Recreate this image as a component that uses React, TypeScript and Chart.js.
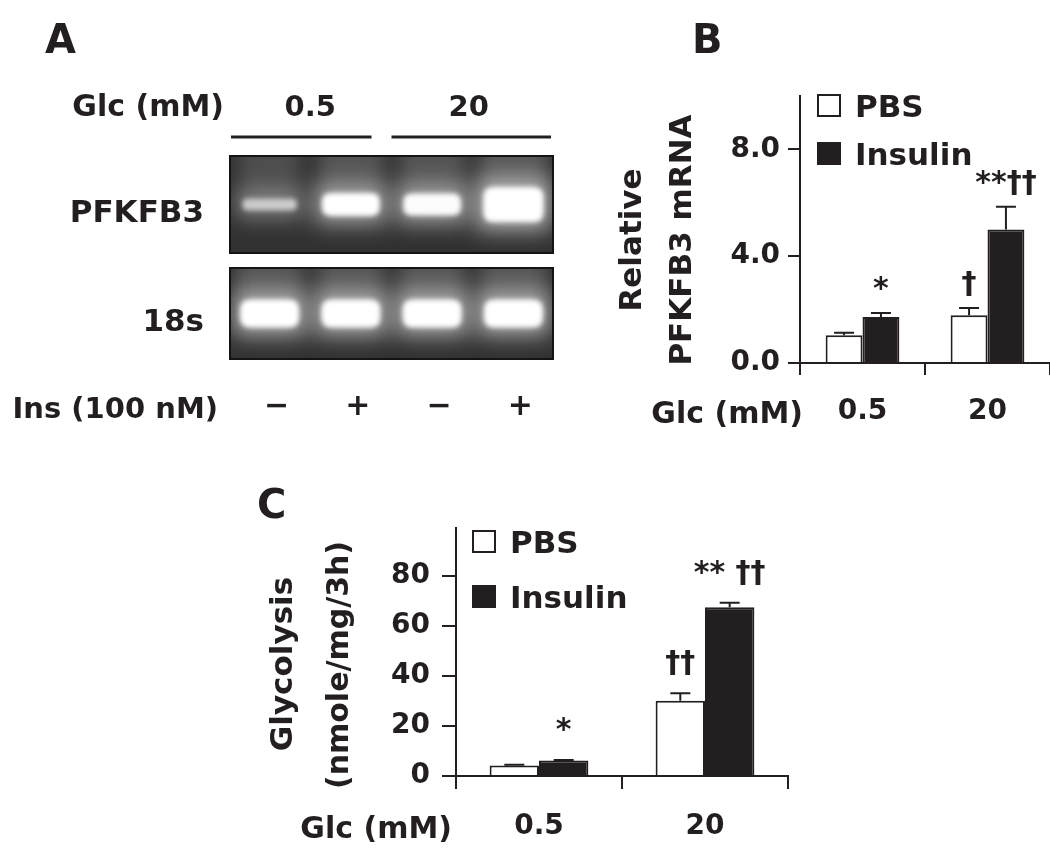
import React, { useEffect, useRef } from 'react';
import { Chart, registerables } from 'chart.js';

Chart.register(...registerables);

const INK = '#231f20';
const FAMILY = '"DejaVu Sans", "Liberation Sans", sans-serif';
const LETTER = 40;
const LABEL = 30;
const TICK = 28;
const MARK = 30;

// ---------------- data ----------------
const glcLevels = ['0.5', '20'];
const insulinLanes = ['\u2212', '+', '\u2212', '+'];
const gelRows = ['PFKFB3', '18s'];
const pfkfb3Signal = [0.4, 0.8, 0.78, 1.0];
const rRNA18sSignal = [0.9, 0.9, 0.9, 0.9];

const seriesNames = ['PBS', 'Insulin'];

const mrnaPBS = [1.04, 1.79];
const mrnaPBSErr = [0.09, 0.27];
const mrnaIns = [1.72, 5.0];
const mrnaInsErr = [0.15, 0.85];
const mrnaMarksPBS = ['', '\u2020'];
const mrnaMarksIns = ['*', '**\u2020\u2020'];
const mrnaTicks = [0, 4, 8];

const glyPBS = [4.2, 30.0];
const glyPBSErr = [0.3, 3.0];
const glyIns = [6.2, 67.4];
const glyInsErr = [0.2, 1.8];
const glyMarksPBS = ['', '\u2020\u2020'];
const glyMarksIns = ['*', '** \u2020\u2020'];
const glyTicks = [0, 20, 40, 60, 80];

// ---------------- helpers ----------------
type TextItem = { text: string; x: number; y: number; size: number; align?: CanvasTextAlign; rotate?: boolean };

function font(size: number) {
  return `bold ${size}px ${FAMILY}`;
}

function paintTexts(ctx: CanvasRenderingContext2D, items: TextItem[]) {
  items.forEach((t) => {
    ctx.save();
    ctx.font = font(t.size);
    ctx.fillStyle = INK;
    ctx.textAlign = t.align || 'left';
    ctx.textBaseline = t.rotate ? 'middle' : 'alphabetic';
    ctx.translate(t.x, t.y);
    if (t.rotate) ctx.rotate(-Math.PI / 2);
    ctx.fillText(t.text, 0, 0);
    ctx.restore();
  });
}

function roundRect(ctx: CanvasRenderingContext2D, x: number, y: number, w: number, h: number, r: number) {
  ctx.beginPath();
  ctx.moveTo(x + r, y);
  ctx.lineTo(x + w - r, y);
  ctx.quadraticCurveTo(x + w, y, x + w, y + r);
  ctx.lineTo(x + w, y + h - r);
  ctx.quadraticCurveTo(x + w, y + h, x + w - r, y + h);
  ctx.lineTo(x + r, y + h);
  ctx.quadraticCurveTo(x, y + h, x, y + h - r);
  ctx.lineTo(x, y + r);
  ctx.quadraticCurveTo(x, y, x + r, y);
  ctx.closePath();
}

// ---------------- gel plugin (panel A) ----------------
function gelPlugin(cfg: { rowTop: number[]; rowBottom: number[]; texts: TextItem[] }) {
  return {
    id: 'gel',
    afterDraw(chart: any) {
      const ctx: CanvasRenderingContext2D = chart.ctx;
      const xs = chart.scales.x;
      const { left, right } = chart.chartArea;
      const laneW = (right - left) / insulinLanes.length;
      ctx.save();
      chart.data.datasets.forEach((ds: any, r: number) => {
        const top = cfg.rowTop[r];
        const bottom = cfg.rowBottom[r];
        const cy = (top + bottom) / 2;
        ctx.save();
        ctx.fillStyle = '#141414';
        ctx.fillRect(left, top, right - left, bottom - top);
        ctx.beginPath();
        ctx.rect(left + 2, top + 2, right - left - 4, bottom - top - 4);
        ctx.clip();
        ctx.fillStyle = '#313131';
        ctx.fillRect(left, top, right - left, bottom - top);
        (ds.data as number[]).forEach((s, i) => {
          const cx = xs.getPixelForValue(i);
          const w = 50 + 10 * s;
          const h = 10 + 25 * s * s * s;
          // lane smear from the well down to the band
          ctx.filter = 'blur(9px)';
          ctx.fillStyle = `rgba(255,255,255,${0.1 + 0.1 * s})`;
          ctx.fillRect(cx - w / 2 - 4, top - 12, w + 8, cy - top + 12 + h / 2);
          // halo
          ctx.filter = 'blur(11px)';
          ctx.fillStyle = `rgba(255,255,255,${0.15 + 0.4 * s})`;
          ctx.fillRect(cx - w / 2 - 7, cy - h / 2 - 9, w + 14, h + 18);
          // core
          ctx.filter = 'blur(2.5px)';
          const g = Math.round(150 + 105 * Math.min(1, s * 1.25));
          ctx.fillStyle = `rgb(${g},${g},${g})`;
          roundRect(ctx, cx - w / 2, cy - h / 2, w, h, Math.min(h / 2.5, 10));
          ctx.fill();
        });
        ctx.filter = 'none';
        ctx.restore();
        paintTexts(ctx, [{ text: gelRows[r], x: left - 25, y: cy + 17, size: 31, align: 'right' }]);
      });
      glcLevels.forEach((lvl, g) => {
        const l = xs.getPixelForValue(2 * g) - laneW / 2;
        const rr = xs.getPixelForValue(2 * g + 1) + laneW / 2;
        const x0 = g === 0 ? l + 2 : l;
        const x1 = g === 0 ? rr - 20 : rr - 3;
        ctx.strokeStyle = INK;
        ctx.lineWidth = 3;
        ctx.beginPath();
        ctx.moveTo(x0, 137);
        ctx.lineTo(x1, 137);
        ctx.stroke();
        paintTexts(ctx, [{ text: lvl, x: (l + rr) / 2 - (g === 0 ? 0 : 4), y: 116, size: 29, align: 'center' }]);
      });
      paintTexts(ctx, cfg.texts);
      ctx.restore();
    },
  };
}

// ---------------- bar decoration plugin (panels B, C) ----------------
function barDecor(cfg: {
  legend: { x: number; y: number; rowGap: number; textX: number };
  texts: TextItem[];
  capWidth: number;
  markGap: number;
}) {
  return {
    id: 'barDecor',
    afterDatasetsDraw(chart: any) {
      const ctx: CanvasRenderingContext2D = chart.ctx;
      const ys = chart.scales.y;
      ctx.save();
      chart.data.datasets.forEach((ds: any, i: number) => {
        const meta = chart.getDatasetMeta(i);
        meta.data.forEach((bar: any, j: number) => {
          const v = ds.data[j];
          const e = ds.errors[j];
          const top = ys.getPixelForValue(v + e);
          ctx.strokeStyle = INK;
          ctx.lineWidth = 2;
          ctx.beginPath();
          ctx.moveTo(bar.x, bar.y);
          ctx.lineTo(bar.x, top);
          ctx.moveTo(bar.x - cfg.capWidth / 2, top);
          ctx.lineTo(bar.x + cfg.capWidth / 2, top);
          ctx.stroke();
          const m = ds.marks[j];
          if (m) {
            paintTexts(ctx, [{ text: m, x: bar.x, y: top - cfg.markGap, size: MARK, align: 'center' }]);
          }
        });
        const lx = cfg.legend.x;
        const ly = cfg.legend.y + i * cfg.legend.rowGap;
        ctx.fillStyle = ds.backgroundColor;
        ctx.fillRect(lx, ly, 24, 23);
        ctx.strokeStyle = INK;
        ctx.lineWidth = 2;
        ctx.strokeRect(lx + 1, ly + 1, 22, 21);
        paintTexts(ctx, [{ text: ds.label, x: cfg.legend.textX, y: ly + 23, size: 31 }]);
      });
      paintTexts(ctx, cfg.texts);
      ctx.restore();
    },
  };
}

function axisStyle(tickLength: number) {
  return {
    grid: {
      display: true,
      drawOnChartArea: false,
      drawTicks: true,
      tickLength,
      tickWidth: 2,
      tickColor: INK,
      lineWidth: 2,
      color: INK,
    },
    border: { display: true, color: INK, width: 2 },
  };
}

function fixSize(prop: 'width' | 'height', value: number) {
  return (s: any) => {
    s[prop] = value;
    s.paddingLeft = 0;
    s.paddingRight = 0;
    s.paddingTop = 0;
    s.paddingBottom = 0;
  };
}

// ---------------- configs ----------------
function configA(): any {
  return {
    type: 'bar',
    data: {
      labels: insulinLanes,
      datasets: [
        { label: gelRows[0], data: pfkfb3Signal, backgroundColor: 'rgba(0,0,0,0)', borderWidth: 0 },
        { label: gelRows[1], data: rRNA18sSignal, backgroundColor: 'rgba(0,0,0,0)', borderWidth: 0 },
      ],
    },
    options: {
      responsive: false,
      animation: false,
      devicePixelRatio: 1,
      events: [],
      layout: { autoPadding: false, padding: { left: 229, right: 496, top: 155, bottom: 0 } },
      plugins: { legend: { display: false }, tooltip: { enabled: false } },
      scales: {
        x: {
          grid: { display: false, drawTicks: false },
          border: { display: false },
          ticks: { font: { size: 30, weight: 'bold', family: FAMILY }, color: INK, padding: 29, maxRotation: 0, autoSkip: false, labelOffset: 7 },
          afterFit: fixSize('height', 501),
        },
        y: { display: false, min: 0, max: 1 },
      },
    },
    plugins: [
      gelPlugin({
        rowTop: [155, 267],
        rowBottom: [254, 360],
        texts: [
          { text: 'A', x: 45, y: 53, size: LETTER },
          { text: 'Glc (mM)', x: 224, y: 116, size: LABEL, align: 'right' },
          { text: 'Ins (100 nM)', x: 218, y: 418, size: 29, align: 'right' },
        ],
      }),
    ],
  };
}

function barConfig(p: {
  pbs: number[]; pbsErr: number[]; pbsMarks: string[];
  ins: number[]; insErr: number[]; insMarks: string[];
  ticks: number[]; max: number; decimals: number;
  padding: any; yWidth: number; xHeight: number; yTickLen: number; xTickLen: number;
  yPad: number; xPad: number; catPct: number; decor: any;
}): any {
  return {
    type: 'bar',
    data: {
      labels: glcLevels,
      datasets: [
        { label: seriesNames[0], data: p.pbs, errors: p.pbsErr, marks: p.pbsMarks, backgroundColor: '#ffffff', borderColor: INK, borderWidth: 2 },
        { label: seriesNames[1], data: p.ins, errors: p.insErr, marks: p.insMarks, backgroundColor: INK, borderColor: INK, borderWidth: 2 },
      ],
    },
    options: {
      responsive: false,
      animation: false,
      devicePixelRatio: 1,
      events: [],
      layout: { autoPadding: false, padding: p.padding },
      plugins: { legend: { display: false }, tooltip: { enabled: false } },
      datasets: { bar: { categoryPercentage: p.catPct, barPercentage: 1 } },
      scales: {
        x: {
          ...axisStyle(p.xTickLen),
          offset: true,
          ticks: { font: { size: TICK, weight: 'bold', family: FAMILY }, color: INK, padding: p.xPad, maxRotation: 0, autoSkip: false },
          afterFit: fixSize('height', p.xHeight),
        },
        y: {
          ...axisStyle(p.yTickLen),
          min: 0,
          max: p.max,
          afterBuildTicks: (s: any) => {
            s.ticks = p.ticks.map((v) => ({ value: v }));
          },
          ticks: {
            font: { size: TICK, weight: 'bold', family: FAMILY },
            color: INK,
            padding: p.yPad,
            callback: (v: any) => Number(v).toFixed(p.decimals),
          },
          afterFit: fixSize('width', p.yWidth),
        },
      },
    },
    plugins: [barDecor(p.decor)],
  };
}

function configB(): any {
  return barConfig({
    pbs: mrnaPBS, pbsErr: mrnaPBSErr, pbsMarks: mrnaMarksPBS,
    ins: mrnaIns, insErr: mrnaInsErr, insMarks: mrnaMarksIns,
    ticks: mrnaTicks, max: 10, decimals: 1,
    padding: { left: 0, right: 0, top: 96, bottom: 0 },
    yWidth: 800, xHeight: 498, yTickLen: 12, xTickLen: 12, yPad: 8, xPad: 20, catPct: 0.59,
    decor: {
      legend: { x: 817, y: 94, rowGap: 48, textX: 855 },
      capWidth: 20,
      markGap: 15,
      texts: [
        { text: 'B', x: 692, y: 53, size: LETTER },
        { text: 'Relative', x: 633, y: 240, size: 31, align: 'center', rotate: true },
        { text: 'PFKFB3 mRNA', x: 683, y: 240, size: 31, align: 'center', rotate: true },
        { text: 'Glc (mM)', x: 803, y: 423, size: LABEL, align: 'right' },
      ],
    },
  });
}

function configC(): any {
  return barConfig({
    pbs: glyPBS, pbsErr: glyPBSErr, pbsMarks: glyMarksPBS,
    ins: glyIns, insErr: glyInsErr, insMarks: glyMarksIns,
    ticks: glyTicks, max: 99, decimals: 0,
    padding: { left: 0, right: 262, top: 528, bottom: 0 },
    yWidth: 456, xHeight: 85, yTickLen: 14, xTickLen: 13, yPad: 12, xPad: 21, catPct: 0.595,
    decor: {
      legend: { x: 472, y: 530, rowGap: 55, textX: 510 },
      capWidth: 20,
      markGap: 21,
      texts: [
        { text: 'C', x: 257, y: 518, size: LETTER },
        { text: 'Glycolysis', x: 284, y: 664, size: 31, align: 'center', rotate: true },
        { text: '(nmole/mg/3h)', x: 340, y: 665, size: 30, align: 'center', rotate: true },
        { text: 'Glc (mM)', x: 452, y: 838, size: LABEL, align: 'right' },
      ],
    },
  });
}

function Layer({ make }: { make: () => any }) {
  const ref = useRef<HTMLCanvasElement>(null);
  useEffect(() => {
    const chart = new Chart(ref.current as HTMLCanvasElement, make());
    return () => chart.destroy();
  }, []);
  return (
    <div style={{ position: 'absolute', left: 0, top: 0, width: 1050, height: 861 }}>
      <canvas ref={ref} width={1050} height={861} style={{ display: 'block', width: 1050, height: 861 }} />
    </div>
  );
}

export default function App() {
  return (
    <div style={{ position: 'absolute', left: 0, top: 0, width: 1050, height: 861, background: '#ffffff', overflow: 'hidden' }}>
      <Layer make={configA} />
      <Layer make={configB} />
      <Layer make={configC} />
    </div>
  );
}
